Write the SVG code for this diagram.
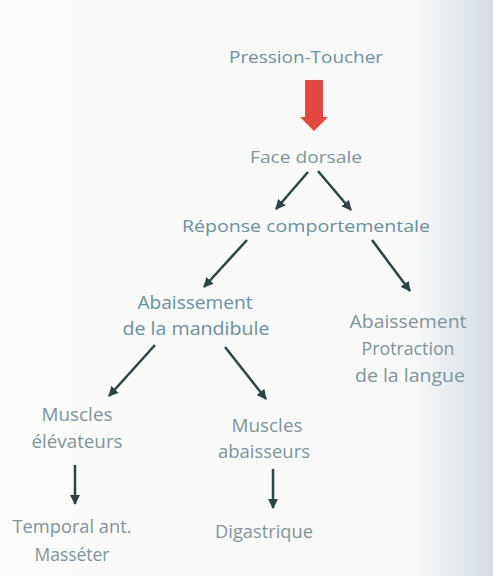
<svg xmlns="http://www.w3.org/2000/svg" width="493" height="576" viewBox="0 0 493 576">
<defs>
<linearGradient id="shade" x1="0" y1="0" x2="1" y2="0">
<stop offset="0" stop-color="#fbfbf9"/>
<stop offset="0.84" stop-color="#f8f9f8"/>
<stop offset="0.92" stop-color="#e6ebef"/>
<stop offset="1" stop-color="#d3dce4"/>
</linearGradient>
<marker id="ah" viewBox="0 0 10 10" refX="9" refY="5" markerWidth="4" markerHeight="4" orient="auto" markerUnits="strokeWidth">
<path d="M0,0 L10,5 L0,10 Z" fill="#2c4446"/>
</marker>
<style>
.t{font-family:"Open Sans","Noto Sans",sans-serif;font-size:16px;fill:#6a90a2;text-anchor:middle}
.b{font-size:18px}
.g{fill:#7f949c}
.c{stroke:#2c4446;stroke-width:2.5;fill:none;marker-end:url(#ah)}
</style>
</defs>
<rect width="493" height="576" fill="url(#shade)"/>
<g id="n-pression"><text class="t" x="306" y="63" textLength="154" lengthAdjust="spacingAndGlyphs">Pression-Toucher</text></g>
<g id="n-face"><text class="t g" x="306" y="163" textLength="112" lengthAdjust="spacingAndGlyphs">Face dorsale</text></g>
<g id="n-reponse"><text class="t" x="306" y="232" textLength="248" lengthAdjust="spacingAndGlyphs">Réponse comportementale</text></g>
<g id="n-abaissement-mand"><text class="t b" x="195" y="309" textLength="115" lengthAdjust="spacingAndGlyphs">Abaissement</text><text class="t b" x="196" y="335" textLength="147" lengthAdjust="spacingAndGlyphs">de la mandibule</text></g>
<g id="n-abaissement-langue"><text class="t b g" x="408" y="328" textLength="117" lengthAdjust="spacingAndGlyphs">Abaissement</text><text class="t b g" x="408" y="355" textLength="93" lengthAdjust="spacingAndGlyphs">Protraction</text><text class="t b g" x="410" y="382" textLength="110" lengthAdjust="spacingAndGlyphs">de la langue</text></g>
<g id="n-elevateurs"><text class="t b g" x="77" y="421" textLength="71" lengthAdjust="spacingAndGlyphs">Muscles</text><text class="t b g" x="77" y="448" textLength="91" lengthAdjust="spacingAndGlyphs">élévateurs</text></g>
<g id="n-abaisseurs"><text class="t b g" x="267" y="432" textLength="71" lengthAdjust="spacingAndGlyphs">Muscles</text><text class="t b g" x="264" y="458" textLength="92" lengthAdjust="spacingAndGlyphs">abaisseurs</text></g>
<g id="n-temporal"><text class="t b g" x="72" y="533" textLength="119" lengthAdjust="spacingAndGlyphs">Temporal ant.</text><text class="t b g" x="72" y="561" textLength="75" lengthAdjust="spacingAndGlyphs">Masséter</text></g>
<g id="n-digastrique"><text class="t b g" x="264" y="538" textLength="98" lengthAdjust="spacingAndGlyphs">Digastrique</text></g>
<g id="connectors">
<path d="M305,80 H323 V117 H328 L314,131 L300,117 H305 Z" fill="#e2483c"/>
<path class="c" d="M308,172 L276,209"/>
<path class="c" d="M318,171 L351,210"/>
<path class="c" d="M247,240 L204,287"/>
<path class="c" d="M372,240 L410,291"/>
<path class="c" d="M155,345 L109,396"/>
<path class="c" d="M225,347 L266,399"/>
<path class="c" d="M75,465 L75,504"/>
<path class="c" d="M273,469 L273,508"/>
</g>
</svg>
